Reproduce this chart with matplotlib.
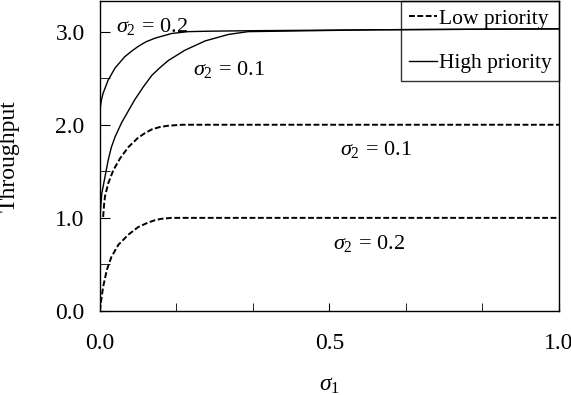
import numpy as np
import matplotlib
matplotlib.use('Agg')
import matplotlib.pyplot as plt
from matplotlib.ticker import MultipleLocator, FixedLocator

plt.rcParams['font.family'] = ['Liberation Serif', 'DejaVu Serif']
plt.rcParams['mathtext.fontset'] = 'custom'
plt.rcParams['mathtext.rm'] = 'Liberation Serif'
plt.rcParams['mathtext.it'] = 'Liberation Serif:italic'

# values (sigma_1 vs throughput)
s1_low_02 = [0, 0.002, 0.007, 0.015, 0.025, 0.040, 0.062, 0.083, 0.105, 0.12, 0.134, 0.156, 0.2, 1.0]
low_02 = [0, 0.09, 0.26, 0.44, 0.58, 0.71, 0.82, 0.90, 0.95, 0.975, 0.99, 1.0, 1.0, 1.0]

s1_low_01 = [0.007, 0.009, 0.011, 0.018, 0.029, 0.044, 0.062, 0.083, 0.098, 0.113, 0.13, 0.149, 0.18, 0.25, 1.0]
low_01 = [1.01, 1.14, 1.23, 1.37, 1.51, 1.64, 1.76, 1.86, 1.91, 1.95, 1.975, 1.99, 2.0, 2.0, 2.0]

s1_high_02 = [0, 0.003, 0.007, 0.018, 0.033, 0.054, 0.069, 0.083, 0.1, 0.12, 0.156, 0.192, 0.24, 0.33, 0.6, 1.0]
high_02 = [2.16, 2.26, 2.34, 2.48, 2.61, 2.73, 2.79, 2.84, 2.89, 2.93, 2.98, 3.0, 3.005, 3.01, 3.02, 3.03]

s1_high_01 = [0, 0.004, 0.011, 0.018, 0.025, 0.033, 0.047, 0.062, 0.076, 0.095, 0.113, 0.13, 0.149,
              0.185, 0.229, 0.28, 0.323, 0.6, 1.0]
high_01 = [1.0, 1.26, 1.44, 1.62, 1.76, 1.87, 2.02, 2.15, 2.27, 2.41, 2.53, 2.61, 2.69,
           2.80, 2.90, 2.97, 3.0, 3.02, 3.03]

fig = plt.figure(figsize=(5.71, 3.95), dpi=100)
ax = fig.add_axes([0.175, 0.2127, 0.804, 0.785])

dash = (0, (3.0, 1.3))
ax.plot(s1_low_02, low_02, color='k', lw=1.4, linestyle=dash, label='Low priority')
ax.plot(s1_low_01, low_01, color='k', lw=1.4, linestyle=dash)
ax.plot(s1_high_02, high_02, color='k', lw=1.0, label='High priority')
ax.plot(s1_high_01, high_01, color='k', lw=1.0)

fs = 16
ax.text(0.035, 3.06, r'$\sigma_2\,=\,0.2$', fontsize=fs, va='center')
ax.text(0.203, 2.59, r'$\sigma_2\,=\,0.1$', fontsize=fs, va='center')
ax.text(0.523, 1.73, r'$\sigma_2\,=\,0.1$', fontsize=fs, va='center')
ax.text(0.508, 0.73, r'$\sigma_2\,=\,0.2$', fontsize=fs, va='center')

ax.set_xlim(0, 1.0)
ax.set_ylim(0, 3.33)
ax.xaxis.set_major_locator(FixedLocator([0, 0.5, 1.0]))
ax.xaxis.set_minor_locator(FixedLocator([1/6, 2/6, 4/6, 5/6]))
ax.yaxis.set_minor_locator(MultipleLocator(0.5))
ax.set_xticklabels(['0.0', '0.5', '1.0'])
ax.set_yticks([0, 1, 2, 3])
ax.set_yticklabels(['0.0', '1.0', '2.0', '3.0'])
ax.tick_params(which='both', direction='in', top=False, right=False, labelsize=17)
ax.tick_params(axis='x', which='both', length=6, pad=16)
ax.tick_params(axis='y', which='both', length=7, pad=11)

ax.set_xlabel(r'$\sigma_1$', fontsize=17)
ax.set_ylabel('Throughput', fontsize=17)
ax.xaxis.set_label_coords(0.5, -0.206)
ax.yaxis.set_label_coords(-0.174, 0.5)

leg = ax.legend(loc='upper right', fontsize=15.5, frameon=True, fancybox=False,
                borderaxespad=0, handlelength=1.3, handletextpad=0.1,
                borderpad=0.35, labelspacing=1.15)
leg.get_frame().set_facecolor('none')
leg.get_frame().set_edgecolor('k')
leg.get_frame().set_linewidth(1.0)

for sp in ax.spines.values():
    sp.set_linewidth(1.0)

fig.savefig('out.png', dpi=100)
